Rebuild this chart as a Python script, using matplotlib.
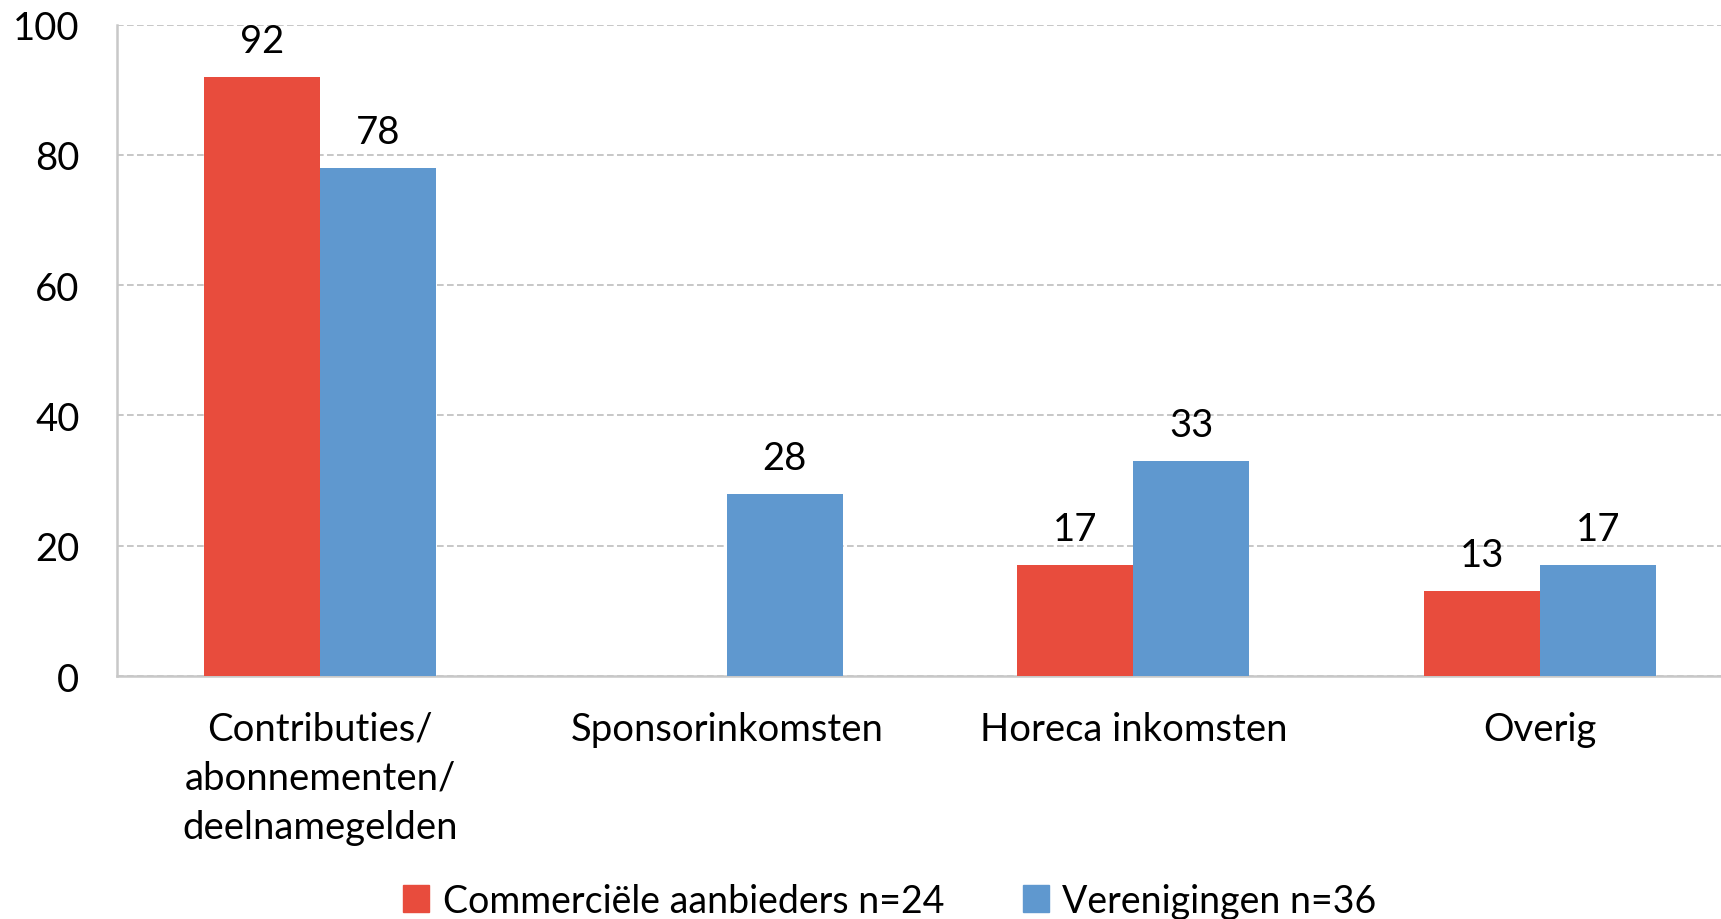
import matplotlib
matplotlib.use("Agg")
import matplotlib.pyplot as plt
import numpy as np
from matplotlib.patches import Patch

categories = ["Contributies/\nabonnementen/\ndeelnamegelden", "Sponsorinkomsten", "Horeca inkomsten", "Overig"]
commercieel = [92, 0, 17, 13]
verenigingen = [78, 28, 33, 17]
series_names = ["Commerciële aanbieders n=24", "Verenigingen n=36"]
yticks = [0, 20, 40, 60, 80, 100]

RED = "#E84C3D"
BLUE = "#5F98CF"
plt.rcParams['font.family'] = ['Lato', 'DejaVu Sans']
FS = 27.5

W, H = 1721, 920
fig = plt.figure(figsize=(W/100, H/100), dpi=100)
left, right, top, bottom = 117, 1743, 25.7, 677
ax = fig.add_axes([left/W, 1-bottom/H, (right-left)/W, (bottom-top)/H])

x = np.arange(len(categories))
bw = 0.285
b1 = ax.bar(x - bw/2, commercieel, bw, color=RED, zorder=3)
b2 = ax.bar(x + bw/2, verenigingen, bw, color=BLUE, zorder=3)

for bars, vals in ((b1, commercieel), (b2, verenigingen)):
    for b, v in zip(bars, vals):
        if v == 0:
            continue
        ax.annotate(str(v), (b.get_x() + b.get_width()/2, v), xytext=(0, 26),
                    textcoords="offset points", ha="center", va="center", fontsize=FS, color="black")

ax.set_xlim(-0.5, 3.5)
ax.set_ylim(0, 100)
ax.set_yticks(yticks)
ax.set_yticklabels([str(t) for t in yticks], fontsize=FS)
ax.set_xticks(x)
ax.set_xticklabels(categories, fontsize=FS, linespacing=1.45, va="top")
ax.tick_params(axis="both", length=0)
ax.tick_params(axis="y", pad=27)
ax.tick_params(axis="x", pad=25)

ax.yaxis.grid(True, linestyle=(0, (4, 2)), color="#BDBDBD", linewidth=1.2, zorder=0)
ax.set_axisbelow(True)
for s in ("top", "right"):
    ax.spines[s].set_visible(False)
for s in ("left", "bottom"):
    ax.spines[s].set_color("#C8C8C8")
    ax.spines[s].set_linewidth(1.8)

handles = [Patch(color=RED), Patch(color=BLUE)]
fig.legend(handles, series_names, loc="center", bbox_to_anchor=(0.517, 0.02), ncol=2,
           frameon=False, fontsize=27, handlelength=0.7, handleheight=0.7,
           handletextpad=0.35, columnspacing=2.1)

fig.savefig("out.png", dpi=100)
